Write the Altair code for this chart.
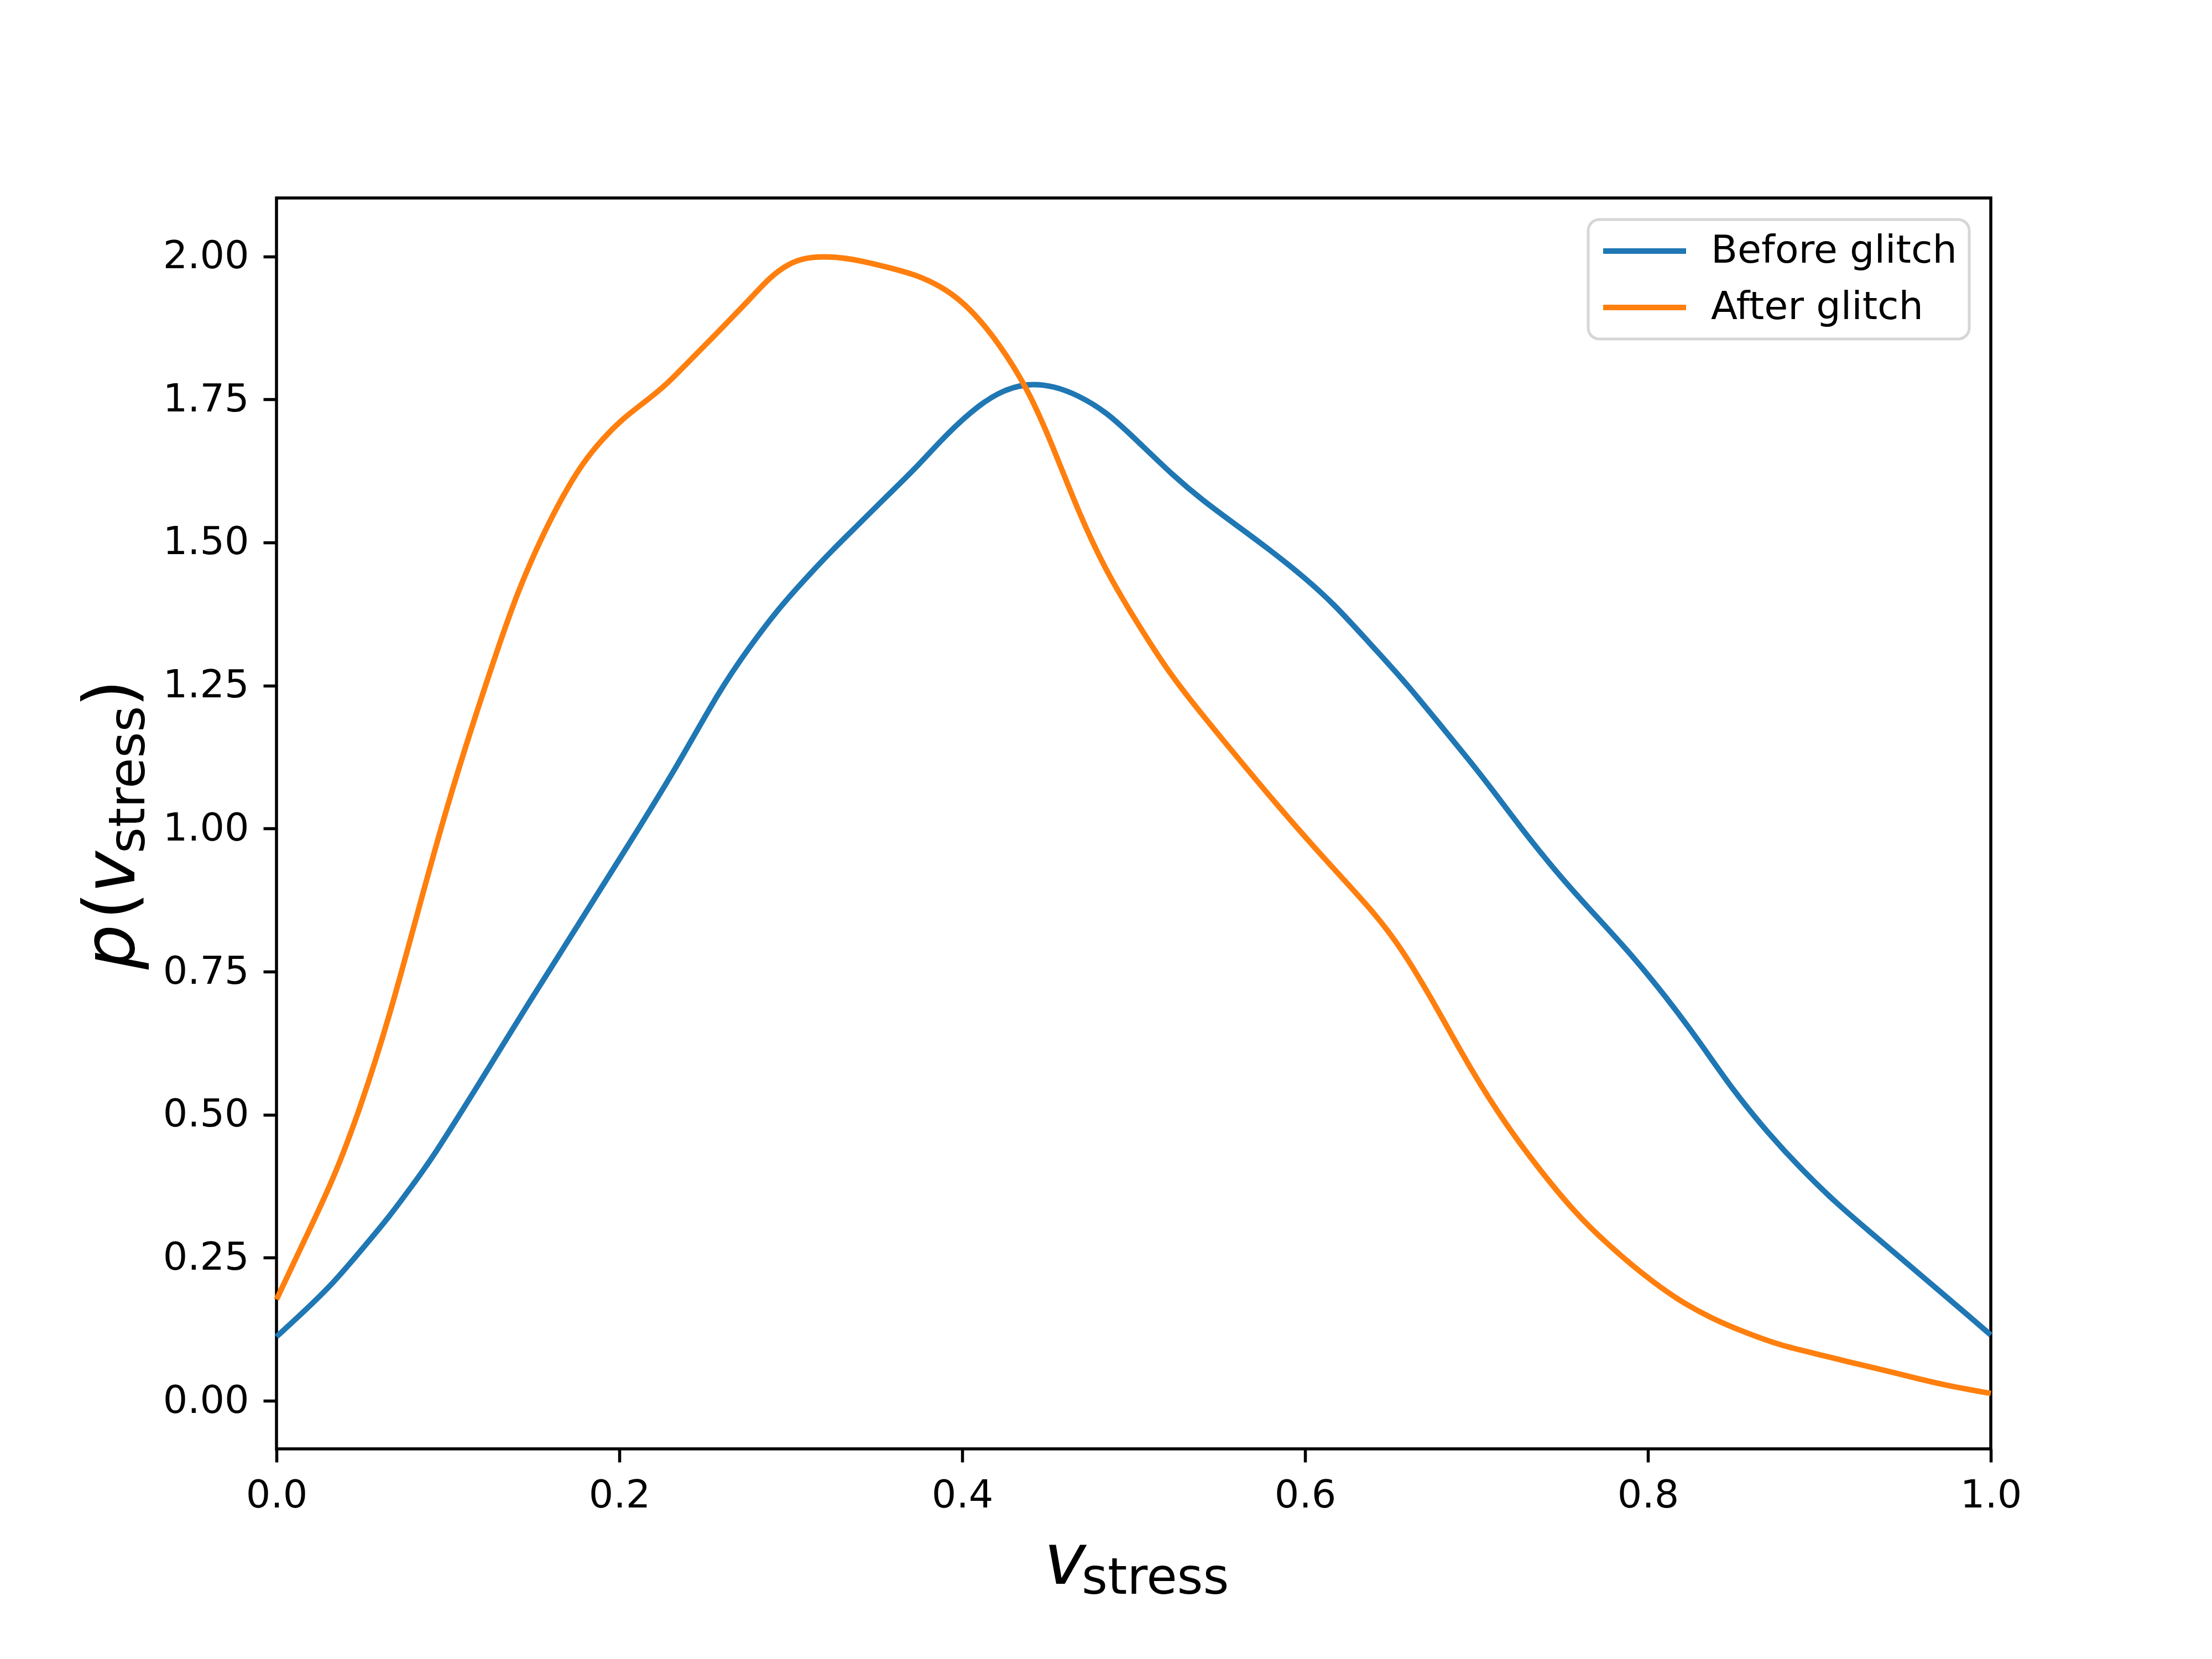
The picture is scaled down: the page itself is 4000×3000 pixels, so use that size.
import altair as alt
import pandas as pd

# ---- data ----
before_x = [0.0, 0.016, 0.033, 0.049, 0.066, 0.082, 0.090, 0.119, 0.147, 0.176, 0.205, 0.234,
            0.258, 0.276, 0.293, 0.308, 0.324, 0.339, 0.355, 0.372,
            0.388, 0.405, 0.421, 0.438, 0.454, 0.467, 0.484, 0.503, 0.523, 0.54, 0.56, 0.58,
            0.6, 0.617, 0.637, 0.657, 0.677, 0.697, 0.71, 0.73, 0.75, 0.77, 0.79, 0.81, 0.83,
            0.85, 0.87, 0.89, 0.91, 0.93, 0.95, 0.97, 0.99, 1.0]
before_y = [0.112, 0.156, 0.205, 0.262, 0.322, 0.388, 0.420, 0.558, 0.695, 0.832, 0.970, 1.110,
            1.240, 1.318, 1.385, 1.435, 1.486, 1.530, 1.578, 1.627,
            1.680, 1.729, 1.763, 1.779, 1.773, 1.758, 1.729, 1.675, 1.617, 1.574, 1.530, 1.486,
            1.438, 1.392, 1.326, 1.261, 1.188, 1.115, 1.065, 0.985, 0.912, 0.846, 0.781, 0.708,
            0.628, 0.541, 0.468, 0.403, 0.345, 0.294, 0.243, 0.192, 0.141, 0.115]

after_x = [0.0, 0.016, 0.033, 0.049, 0.066, 0.082, 0.099, 0.115, 0.130, 0.141, 0.154, 0.166,
           0.178, 0.191, 0.203, 0.2155, 0.228, 0.240, 0.2525, 0.265, 0.277, 0.288, 0.298,
           0.309, 0.326, 0.343, 0.359, 0.375,
           0.391, 0.405, 0.421, 0.438, 0.452, 0.468, 0.485, 0.503, 0.52, 0.537, 0.557, 0.577,
           0.6, 0.62, 0.64, 0.657, 0.677, 0.697, 0.717, 0.737, 0.757, 0.777, 0.797, 0.817,
           0.837, 0.857, 0.877, 0.897, 0.917, 0.937, 0.957, 0.977, 1.0]
after_y = [0.177, 0.279, 0.385, 0.512, 0.672, 0.850, 1.035, 1.188, 1.323, 1.416, 1.505, 1.576,
           1.637, 1.684, 1.719, 1.747, 1.777, 1.815, 1.852, 1.891, 1.928, 1.964, 1.986,
           1.999, 2.000, 1.991, 1.979, 1.966,
           1.942, 1.908, 1.850, 1.770, 1.675, 1.551, 1.443, 1.355, 1.275, 1.210, 1.137, 1.065,
           0.985, 0.919, 0.854, 0.788, 0.686, 0.577, 0.483, 0.403, 0.330, 0.272, 0.221, 0.177,
           0.144, 0.119, 0.097, 0.083, 0.068, 0.054, 0.039, 0.025, 0.013]

series_names = ["Before glitch", "After glitch"]
series_colors = ["#1f77b4", "#ff7f0e"]
x_ticks = [0.0, 0.2, 0.4, 0.6, 0.8, 1.0]
y_ticks = [0.0, 0.25, 0.5, 0.75, 1.0, 1.25, 1.5, 1.75, 2.0]
x_title_main, x_title_sub = "v", "stress"
y_title_p, y_title_open, y_title_v, y_title_sub, y_title_close = "p", "(", "v", "stress", ")"

df = pd.concat([
    pd.DataFrame({"v": before_x, "p": before_y, "series": series_names[0]}),
    pd.DataFrame({"v": after_x, "p": after_y, "series": series_names[1]}),
], ignore_index=True)

W, H = 3100, 2262
FONT = "DejaVu Sans"

lines = alt.Chart(df).mark_line(strokeWidth=10, interpolate="basis").encode(
    x=alt.X("v:Q", scale=alt.Scale(domain=[0, 1], nice=False, zero=False),
            axis=alt.Axis(values=x_ticks, format=".1f", title=None, labelFlush=False)),
    y=alt.Y("p:Q", scale=alt.Scale(domain=[-0.084, 2.102], nice=False, zero=False),
            axis=alt.Axis(values=y_ticks, format=".2f", title=None, labelFlush=False)),
    color=alt.Color("series:N",
                    scale=alt.Scale(domain=series_names, range=series_colors),
                    legend=alt.Legend(title=None, orient="none", legendX=2372, legendY=39,
                                      symbolType="stroke", symbolSize=22500,
                                      symbolStrokeWidth=10, labelFontSize=70,
                                      labelFont=FONT, labelColor="black", padding=22,
                                      strokeColor="#d6d6d6", fillColor="white",
                                      cornerRadius=20, rowPadding=32, labelOffset=40,
                                      clipHeight=70, labelLimit=2000)),
)


def label(s, x, y, size, italic=False, angle=0):
    return alt.Chart(pd.DataFrame({"t": [s]})).mark_text(
        text=s, font=FONT, fontSize=size, fontStyle="italic" if italic else "normal",
        align="left", baseline="alphabetic", angle=angle, color="black"
    ).encode(x=alt.value(x), y=alt.value(y))


titles = [
    label(x_title_main, 1388, 2506, 128, italic=True),
    label(x_title_sub, 1456, 2524, 90),
    label(y_title_p, -257, 1395, 128, italic=True, angle=270),
    label(y_title_open, -257, 1305, 128, angle=270),
    label(y_title_v, -257, 1257, 128, italic=True, angle=270),
    label(y_title_sub, -239, 1185, 90, angle=270),
    label(y_title_close, -257, 921, 128, angle=270),
]

chart = alt.layer(lines, *titles).properties(
    width=W, height=H,
    autosize=alt.AutoSizeParams(type="none"),
    padding={"left": 492, "top": 350, "right": 392, "bottom": 372},
    background="white",
).configure_view(
    stroke="black", strokeWidth=5.5
).configure_axis(
    labelFont=FONT, labelFontSize=70, labelColor="black",
    tickColor="black", tickWidth=5.5, tickSize=24, labelPadding=26,
    domain=False, grid=False,
).configure_legend(strokeWidth=5)

chart.save("out.html", embed_options={"renderer": "svg", "actions": False})
